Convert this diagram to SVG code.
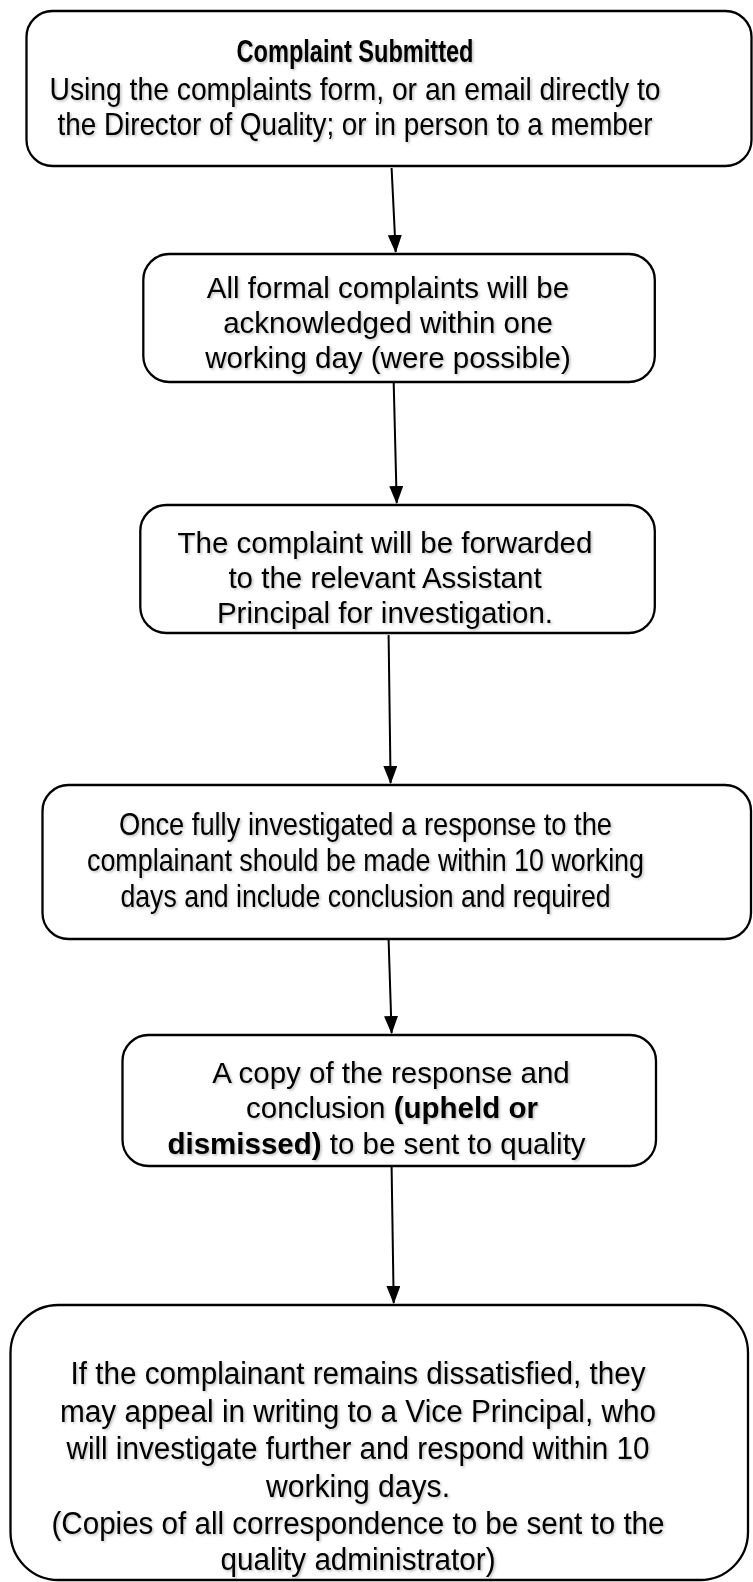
<svg xmlns="http://www.w3.org/2000/svg" width="753" height="1582" viewBox="0 0 753 1582">
<style>
.box{fill:#fff;stroke:#000;stroke-width:2.3}
.t{font-family:"Liberation Sans",Arial,sans-serif;fill:#000;text-anchor:middle;filter:url(#sh)}
.n{font-size:29.5px}
.w{font-size:32px}
.v{font-size:31px}
.b{font-weight:bold}
.c{stroke:#000;stroke-width:2;fill:none;marker-end:url(#ah)}
</style>
<defs>
<filter id="sh" x="-5%" y="-20%" width="110%" height="150%">
<feDropShadow dx="1.5" dy="1.5" stdDeviation="0.8" flood-color="#000" flood-opacity="0.25"/>
</filter>
<marker id="ah" viewBox="0 0 18 14" refX="17" refY="7" markerWidth="18" markerHeight="14" markerUnits="userSpaceOnUse" orient="auto">
<path d="M0,0 L18,7 L0,14 Z" fill="#000"/>
</marker>
</defs>
<g id="connectors">
<path class="c" d="M391.6,168 L395.7,252"/>
<path class="c" d="M393.7,383 L396.7,503"/>
<path class="c" d="M388.6,635 L390.6,783"/>
<path class="c" d="M388.6,940 L391.6,1033"/>
<path class="c" d="M391.6,1167 L393.7,1303"/>
</g>
<g id="node1">
<rect class="box" x="26.5" y="11" width="725" height="155" rx="26"/>
<text class="t w b" x="355" y="62" textLength="237" lengthAdjust="spacingAndGlyphs">Complaint Submitted</text>
<text class="t w" x="355" y="100" textLength="611" lengthAdjust="spacingAndGlyphs">Using the complaints form, or an email directly to</text>
<text class="t w" x="355" y="135" textLength="595" lengthAdjust="spacingAndGlyphs">the Director of Quality; or in person to a member</text>
</g>
<g id="node2">
<rect class="box" x="143.3" y="254" width="511.5" height="128" rx="26"/>
<text class="t n" x="388" y="298">All formal complaints will be</text>
<text class="t n" x="388" y="333">acknowledged within one</text>
<text class="t n" x="388" y="368">working day (were possible)</text>
</g>
<g id="node3">
<rect class="box" x="140.3" y="505" width="514.5" height="128" rx="26"/>
<text class="t n" x="385" y="553">The complaint will be forwarded</text>
<text class="t n" x="385" y="588">to the relevant Assistant</text>
<text class="t n" x="385" y="623">Principal for investigation.</text>
</g>
<g id="node4">
<rect class="box" x="42.5" y="785" width="708.5" height="154" rx="26"/>
<text class="t w" x="365.5" y="835" textLength="493" lengthAdjust="spacingAndGlyphs">Once fully investigated a response to the</text>
<text class="t w" x="365.5" y="871" textLength="557" lengthAdjust="spacingAndGlyphs">complainant should be made within 10 working</text>
<text class="t w" x="365.5" y="907" textLength="490" lengthAdjust="spacingAndGlyphs">days and include conclusion and required</text>
</g>
<g id="node5">
<rect class="box" x="122.5" y="1035" width="533.5" height="131" rx="26"/>
<text class="t n" x="391" y="1083">A copy of the response and</text>
<text class="t n" x="392" y="1118">conclusion <tspan class="b">(upheld or</tspan></text>
<text class="t n" x="376.5" y="1154"><tspan class="b">dismissed)</tspan> to be sent to quality</text>
</g>
<g id="node6">
<rect class="box" x="10.5" y="1305" width="737.5" height="275" rx="48"/>
<text class="t v" x="358" y="1384" textLength="575" lengthAdjust="spacingAndGlyphs">If the complainant remains dissatisfied, they</text>
<text class="t v" x="358" y="1421.5" textLength="596" lengthAdjust="spacingAndGlyphs">may appeal in writing to a Vice Principal, who</text>
<text class="t v" x="358" y="1459" textLength="583" lengthAdjust="spacingAndGlyphs">will investigate further and respond within 10</text>
<text class="t v" x="358" y="1496.5" textLength="184" lengthAdjust="spacingAndGlyphs">working days.</text>
<text class="t v" x="358" y="1534" textLength="613" lengthAdjust="spacingAndGlyphs">(Copies of all correspondence to be sent to the</text>
<text class="t v" x="358" y="1570" textLength="275" lengthAdjust="spacingAndGlyphs">quality administrator)</text>
</g>
</svg>
